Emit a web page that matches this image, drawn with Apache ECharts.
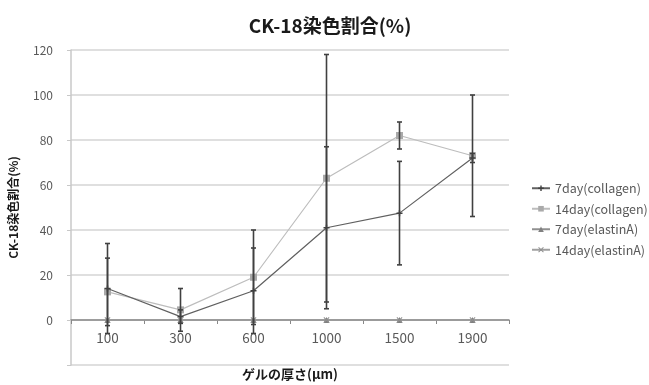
<!DOCTYPE html>
<html><head><meta charset="utf-8">
<script src="https://cdn.jsdelivr.net/npm/echarts@6/dist/echarts.min.js"></script>
<style>html,body{margin:0;padding:0;background:#fff}#c{width:649px;height:385px}</style>
</head><body><div id="c"></div>
<script>
const categories = ['100','300','600','1000','1500','1900'];
const col7 = [14, 1.5, 13, 41, 47.5, 72];
const col7Err = [20, 3, 19, 36, 23, 2];
const col14 = [12.5, 4.5, 19, 63, 82, 73];
const col14Err = [15, 9.5, 21, 55, 6, 27];
const ela7 = [0, 0, 0, 0, 0, 0];
const ela14 = [0, 0, 0, 0, 0, 0];
const seriesNames = ['7day(collagen)','14day(collagen)','7day(elastinA)','14day(elastinA)'];
const yTicks = {min: -20, max: 120, interval: 20};

const font = '"Noto Sans CJK JP", "Liberation Sans", sans-serif';
const chart = echarts.init(document.getElementById('c'), null, {renderer: 'canvas'});

function errData(vals, errs) {
  return vals.map((v, i) => [i, v - errs[i], v + errs[i]]);
}
function errSeries(vals, errs) {
  return {
    type: 'custom', silent: true, z: 5,
    data: errData(vals, errs),
    renderItem: function (params, api) {
      const lo = api.coord([api.value(0), api.value(1)]);
      const hi = api.coord([api.value(0), api.value(2)]);
      const w = 2.5;
      const st = {stroke: '#404040', lineWidth: 1.6};
      return {type: 'group', children: [
        {type: 'line', shape: {x1: lo[0], y1: lo[1], x2: hi[0], y2: hi[1]}, style: st},
        {type: 'line', shape: {x1: hi[0]-w, y1: hi[1], x2: hi[0]+w, y2: hi[1]}, style: st},
        {type: 'line', shape: {x1: lo[0]-w, y1: lo[1], x2: lo[0]+w, y2: lo[1]}, style: st}
      ]};
    }
  };
}
const plusPath = 'path://M3,0H5V3H8V5H5V8H3V5H0V3H3Z';
const xPath = 'path://M1,0L4,3L7,0L8,1L5,4L8,7L7,8L4,5L1,8L0,7L3,4L0,1Z';

chart.setOption({
  animation: false,
  backgroundColor: '#fff',
  title: {
    text: 'CK-18染色割合(%)', left: 325, top: 11, textAlign: 'center',
    textStyle: {fontFamily: font, fontSize: 19, fontWeight: 'bold', color: '#1a1a1a'}
  },
  legend: {
    data: seriesNames, orient: 'vertical', left: 526, top: 177, itemGap: 8,
    itemWidth: 18, itemHeight: 7,
    textStyle: {fontFamily: font, fontSize: 12.5, color: '#595959'}
  },
  grid: {left: 71, right: 140, top: 50, bottom: 20, containLabel: false, outerBoundsMode: 'none'},
  xAxis: {
    type: 'category', data: categories, boundaryGap: true,
    name: 'ゲルの厚さ(μm)', nameLocation: 'middle', nameGap: 3,
    nameTextStyle: {fontFamily: font, fontSize: 13, fontWeight: 'bold', color: '#1a1a1a'},
    axisLine: {onZero: true, lineStyle: {color: '#888', width: 1.5}},
    axisTick: {show: true, alignWithLabel: false, length: 4, lineStyle: {color: '#888'}},
    axisLabel: {fontFamily: font, fontSize: 13.5, color: '#595959', margin: -34},
    splitLine: {show: false}
  },
  yAxis: {
    type: 'value', min: yTicks.min, max: yTicks.max, interval: yTicks.interval,
    name: 'CK-18染色割合(%)', nameLocation: 'middle', nameGap: 52, nameRotate: 90,
    nameTextStyle: {fontFamily: font, fontSize: 12, fontWeight: 'bold', color: '#1a1a1a'},
    axisLine: {show: true, lineStyle: {color: '#c8c8c8', width: 1.5}},
    axisTick: {show: true, length: 4, lineStyle: {color: '#c8c8c8'}},
    axisLabel: {fontFamily: font, fontSize: 12, color: '#595959', margin: 18,
      formatter: v => v < 0 ? '' : String(v)},
    splitLine: {show: true, lineStyle: {color: '#d4d4d4', width: 1.5}}
  },
  series: [
    {name: seriesNames[0], type: 'line', data: col7, symbol: plusPath, symbolSize: 6,
      lineStyle: {color: '#606060', width: 1.2}, itemStyle: {color: '#404040'}, z: 3},
    {name: seriesNames[1], type: 'line', data: col14, symbol: 'rect', symbolSize: 7,
      lineStyle: {color: '#bdbdbd', width: 1.2}, itemStyle: {color: '#aaaaaa'}, z: 2},
    {name: seriesNames[2], type: 'line', data: ela7, symbol: 'triangle', symbolSize: 6,
      lineStyle: {color: '#909090', width: 1.2}, itemStyle: {color: '#808080'}, z: 4},
    {name: seriesNames[3], type: 'line', data: ela14, symbol: xPath, symbolSize: 6,
      lineStyle: {color: '#a0a0a0', width: 1.2}, itemStyle: {color: '#909090'}, z: 4},
    errSeries(col7, col7Err),
    errSeries(col14, col14Err)
  ]
});
</script></body></html>
